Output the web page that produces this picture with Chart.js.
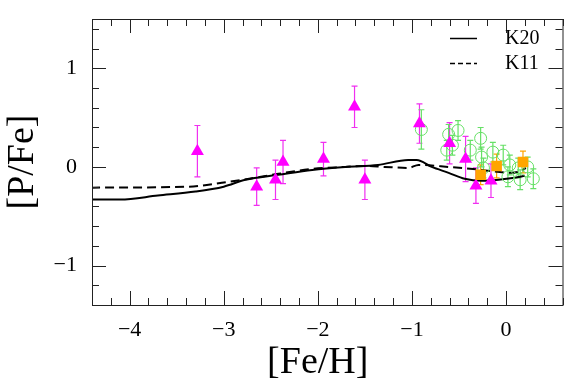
<!DOCTYPE html>
<html>
<head>
<meta charset="utf-8">
<title>[P/Fe] vs [Fe/H]</title>
<script src="https://cdn.jsdelivr.net/npm/chart.js@4.4.1/dist/chart.umd.min.js"></script>
<style>
  html, body { margin: 0; padding: 0; background: #fff; }
  #wrap { width: 570px; height: 391px; }
</style>
</head>
<body>
<div id="wrap"><canvas id="grafica" width="570" height="391"></canvas></div>
<script>
  // magenta triangles
  const triFeH = [-3.28, -2.65, -2.45, -2.37, -1.94, -1.61, -1.50, -0.92, -0.60, -0.43, -0.32, -0.16];
  const triPFe = [0.16, -0.20, -0.13, 0.05, 0.08, 0.61, -0.13, 0.44, 0.24, 0.08, -0.19, -0.14];
  const triErr = [0.26, 0.19, 0.20, 0.22, 0.17, 0.21, 0.20, 0.20, 0.21, 0.23, 0.18, 0.17];

  // orange squares
  const sqFeH = [-0.27, -0.10, 0.18];
  const sqPFe = [-0.08, 0.01, 0.05];
  const sqErr = [0.10, 0.12, 0.11];

  // green open circles
  const circFeH = [-0.90, -0.61, -0.51, -0.63, -0.27, -0.38, -0.26, -0.14, -0.03, 0.04, -0.24, 0.02, 0.15, 0.23, 0.29, 0.13, -0.57];
  const circPFe = [0.38, 0.33, 0.37, 0.17, 0.29, 0.17, 0.10, 0.15, 0.12, 0.02, -0.01, -0.10, -0.13, 0.00, -0.12, -0.01, 0.22];
  const circErr = [0.20, 0.10, 0.10, 0.10, 0.11, 0.10, 0.10, 0.10, 0.10, 0.10, 0.10, 0.10, 0.10, 0.10, 0.10, 0.10, 0.10];

  // model curves
  const k20FeH = [-4.41, -4.10, -3.70, -3.30, -3.00, -2.77, -2.42, -2.06, -1.71, -1.36, -1.04, -0.95, -0.79, -0.61, -0.44, -0.26, -0.08, 0.09, 0.20];
  const k20PFe = [-0.33, -0.33, -0.29, -0.25, -0.20, -0.13, -0.08, -0.03, 0.00, 0.02, 0.07, 0.07, 0.00, -0.06, -0.12, -0.14, -0.13, -0.11, -0.09];
  const k11FeH = [-4.41, -3.37, -3.02, -2.73, -2.42, -2.06, -1.71, -1.50, -1.29, -1.04, -0.93, -0.61, -0.26, 0.05, 0.16, 0.21];
  const k11PFe = [-0.21, -0.20, -0.16, -0.12, -0.07, -0.02, 0.00, 0.01, 0.00, -0.01, 0.02, 0.00, -0.03, -0.06, -0.04, -0.01];

  const xTickVals = [-4, -3, -2, -1, 0];
  const yTickVals = [-1, 0, 1];

  const pts = (xs, ys) => xs.map((v, i) => ({ x: v, y: ys[i] }));
  const fmt = v => (v < 0 ? '\u2212' + Math.abs(v) : String(v));
  const serif = "'Liberation Serif', 'DejaVu Serif', serif";

  const errorBars = {
    id: 'errorBars',
    beforeDatasetsDraw(chart) {
      const { ctx, scales: { x, y } } = chart;
      chart.data.datasets.forEach(ds => {
        if (!ds.yErr) return;
        ctx.save();
        ctx.strokeStyle = ds.errColor;
        ctx.lineWidth = 1.2;
        ds.data.forEach((p, i) => {
          const px = x.getPixelForValue(p.x);
          const top = y.getPixelForValue(p.y + ds.yErr[i]);
          const bot = y.getPixelForValue(p.y - ds.yErr[i]);
          ctx.beginPath();
          ctx.moveTo(px, top); ctx.lineTo(px, bot);
          ctx.moveTo(px - 3, top); ctx.lineTo(px + 3, top);
          ctx.moveTo(px - 3, bot); ctx.lineTo(px + 3, bot);
          ctx.stroke();
        });
        ctx.restore();
      });
    }
  };

  // box, inward ticks on all four sides, legend
  const frame = {
    id: 'frame',
    afterDraw(chart) {
      const { ctx, chartArea: a, scales: { x, y } } = chart;
      ctx.save();
      ctx.strokeStyle = '#222';
      ctx.lineWidth = 1;
      ctx.strokeRect(a.left + 0.5, a.top + 0.5, a.right - a.left, a.bottom - a.top);
      ctx.beginPath();
      for (let i = -22; i <= 3; i++) {
        const px = Math.round(x.getPixelForValue(i * 0.2)) + 0.5;
        const len = i % 5 === 0 ? 14 : 7;
        ctx.moveTo(px, a.bottom); ctx.lineTo(px, a.bottom - len);
        ctx.moveTo(px, a.top); ctx.lineTo(px, a.top + len);
      }
      for (let i = -7; i <= 7; i++) {
        const py = Math.round(y.getPixelForValue(i * 0.2)) + 0.5;
        const len = i % 5 === 0 ? 14 : 7;
        ctx.moveTo(a.left, py); ctx.lineTo(a.left + len, py);
        ctx.moveTo(a.right, py); ctx.lineTo(a.right - len, py);
      }
      ctx.stroke();

      // legend
      ctx.strokeStyle = '#000';
      ctx.lineWidth = 1.5;
      ctx.beginPath(); ctx.moveTo(450, 38.5); ctx.lineTo(477, 38.5); ctx.stroke();
      ctx.setLineDash([5, 3]);
      ctx.beginPath(); ctx.moveTo(450, 63.5); ctx.lineTo(477, 63.5); ctx.stroke();
      ctx.setLineDash([]);
      ctx.fillStyle = '#000';
      ctx.font = '20px ' + serif;
      ctx.textBaseline = 'middle';
      ctx.fillText('K20', 505, 39);
      ctx.fillText('K11', 505, 64);
      ctx.restore();
    }
  };

  new Chart(document.getElementById('grafica'), {
    type: 'scatter',
    data: {
      datasets: [
        {
          label: 'squares', data: pts(sqFeH, sqPFe), yErr: sqErr, errColor: '#ffa500',
          pointStyle: 'rect', pointRadius: 7.5, backgroundColor: '#ffa500', borderColor: '#ffa500', borderWidth: 0, order: 1
        },
        {
          label: 'triangles', data: pts(triFeH, triPFe), yErr: triErr, errColor: '#f030f0',
          pointStyle: 'triangle', pointRadius: 7.5, backgroundColor: '#ff00ff', borderColor: '#ff00ff', borderWidth: 0, order: 2
        },
        {
          label: 'circles', data: pts(circFeH, circPFe), yErr: circErr, errColor: '#66e066',
          pointStyle: 'circle', pointRadius: 6, backgroundColor: 'rgba(0,0,0,0)', borderColor: '#66e066', borderWidth: 1, order: 3
        },
        {
          type: 'line', label: 'K20', data: pts(k20FeH, k20PFe), borderColor: '#000', borderWidth: 2,
          pointRadius: 0, cubicInterpolationMode: 'monotone', fill: false, order: 4
        },
        {
          type: 'line', label: 'K11', data: pts(k11FeH, k11PFe), borderColor: '#000', borderWidth: 2, borderDash: [9, 5],
          pointRadius: 0, cubicInterpolationMode: 'monotone', fill: false, order: 5
        }
      ]
    },
    options: {
      responsive: false,
      animation: false,
      layout: { padding: { top: 19, right: 6, left: 0, bottom: 0 } },
      plugins: { legend: { display: false }, tooltip: { enabled: false } },
      scales: {
        x: {
          type: 'linear', min: -4.4, max: 0.6,
          afterFit: s => { s.height = 86; s.paddingLeft = 0; s.paddingRight = 0; },
          afterBuildTicks: s => { s.ticks = xTickVals.map(v => ({ value: v })); },
          grid: { display: false, drawTicks: false },
          border: { display: false },
          ticks: { padding: 12, color: '#000', font: { family: serif, size: 22 }, callback: fmt, maxRotation: 0 },
          title: { display: true, text: '[Fe/H]\u2002', color: '#000', font: { family: serif, size: 38 }, padding: { bottom: 5 } }
        },
        y: {
          type: 'linear', min: -1.4, max: 1.5,
          afterFit: s => { s.width = 92; s.paddingTop = 0; s.paddingBottom = 0; },
          afterBuildTicks: s => { s.ticks = yTickVals.map(v => ({ value: v })); },
          grid: { display: false, drawTicks: false },
          border: { display: false },
          ticks: { padding: 15, color: '#000', font: { family: serif, size: 22 }, callback: fmt },
          title: { display: true, text: '[P/Fe]', color: '#000', font: { family: serif, size: 38 }, padding: { top: 0 } }
        }
      }
    },
    plugins: [errorBars, frame]
  });
</script>
</body>
</html>
